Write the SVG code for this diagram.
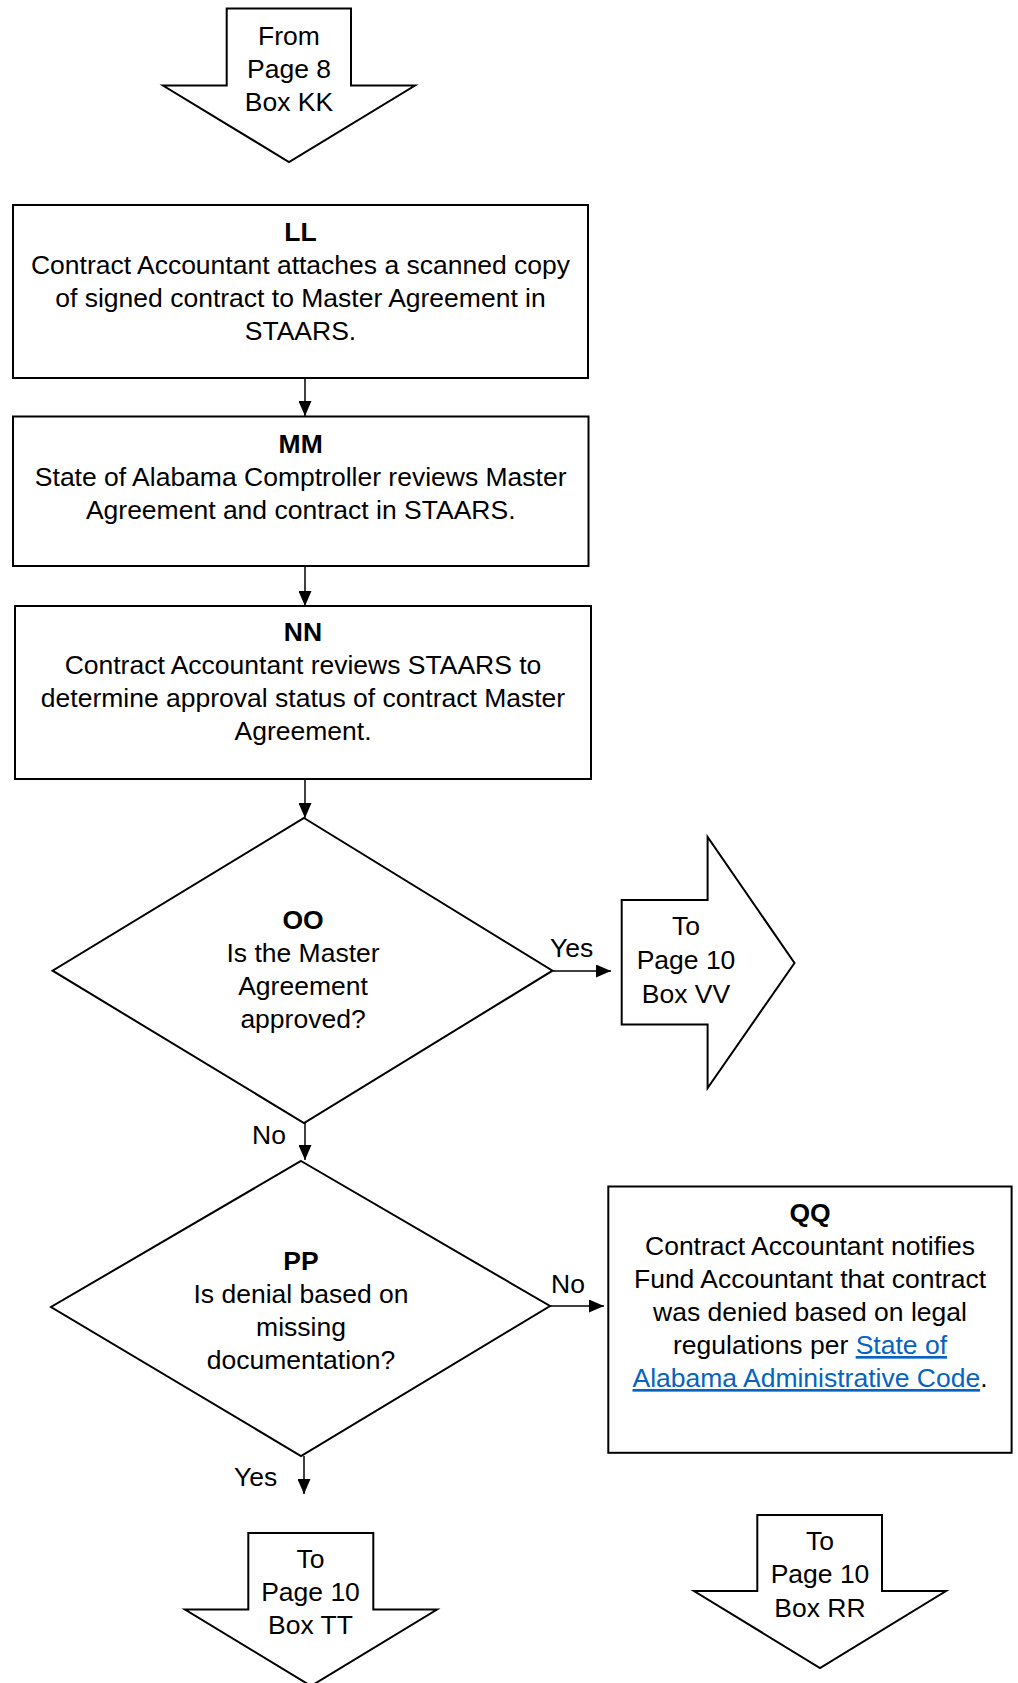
<svg xmlns="http://www.w3.org/2000/svg" width="1018" height="1683" viewBox="0 0 1018 1683">
<style>
.shape{fill:#fff;stroke:#000;stroke-width:2;stroke-linejoin:miter}
.conn{stroke:#000;stroke-width:1.5;fill:none}
text{font-family:"Liberation Sans",Arial,sans-serif;font-size:26.5px;fill:#000;text-anchor:middle}
.b{font-weight:bold}
.lbl{text-anchor:start}
.link{fill:#0563C1;text-decoration:underline}
</style>
<defs>
<marker id="ah" viewBox="0 0 15 13" refX="15" refY="6.5" markerWidth="15" markerHeight="13" orient="auto" markerUnits="userSpaceOnUse">
<path d="M0,0 L15,6.5 L0,13 z" fill="#000"/>
</marker>
</defs>
<rect width="1018" height="1683" fill="#fff"/>

<g id="from-kk">
<polygon class="shape" points="226.7,8.5 351,8.5 351,85.5 415,85.5 289,162 163,85.5 226.7,85.5"/>
<text x="289" y="45">From</text>
<text x="289" y="78">Page 8</text>
<text x="289" y="111">Box KK</text>
</g>

<g id="LL">
<rect class="shape" x="13" y="205" width="575" height="173"/>
<text x="300.5" y="240.5" class="b">LL</text>
<text x="300.5" y="273.5">Contract Accountant attaches a scanned copy</text>
<text x="300.5" y="306.5">of signed contract to Master Agreement in</text>
<text x="300.5" y="339.5">STAARS.</text>
</g>

<g id="MM">
<rect class="shape" x="13" y="416.5" width="575.5" height="149.5"/>
<text x="300.7" y="453" class="b">MM</text>
<text x="300.7" y="486">State of Alabama Comptroller reviews Master</text>
<text x="300.7" y="519">Agreement and contract in STAARS.</text>
</g>

<g id="NN">
<rect class="shape" x="15" y="606" width="576" height="173"/>
<text x="303" y="641" class="b">NN</text>
<text x="303" y="674">Contract Accountant reviews STAARS to</text>
<text x="303" y="707">determine approval status of contract Master</text>
<text x="303" y="740">Agreement.</text>
</g>

<g id="OO">
<polygon class="shape" points="304,818 552.5,970.7 304,1123 52.6,970.7"/>
<text x="303" y="928.5" class="b">OO</text>
<text x="303" y="961.5">Is the Master</text>
<text x="303" y="994.5">Agreement</text>
<text x="303" y="1027.5">approved?</text>
</g>

<g id="to-vv">
<polygon class="shape" points="621.7,900 707.6,900 707.6,837 794.5,963 707.6,1088 707.6,1024.5 621.7,1024.5"/>
<text x="686" y="935">To</text>
<text x="686" y="968.5">Page 10</text>
<text x="686" y="1003">Box VV</text>
</g>

<g id="PP">
<polygon class="shape" points="301,1161 550,1306 301,1456 51,1307"/>
<text x="301" y="1269.5" class="b">PP</text>
<text x="301" y="1302.5">Is denial based on</text>
<text x="301" y="1335.5">missing</text>
<text x="301" y="1368.5">documentation?</text>
</g>

<g id="QQ">
<rect class="shape" x="608.3" y="1186.5" width="403.3" height="266.3"/>
<text x="810" y="1222" class="b">QQ</text>
<text x="810" y="1255">Contract Accountant notifies</text>
<text x="810" y="1288">Fund Accountant that contract</text>
<text x="810" y="1321">was denied based on legal</text>
<text x="810" y="1354">regulations per <tspan class="link">State of</tspan></text>
<text x="810" y="1387"><tspan class="link">Alabama Administrative Code</tspan>.</text>
</g>

<g id="to-tt">
<polygon class="shape" points="248.3,1533 373.3,1533 373.3,1609.5 437,1609.5 311,1686 185,1609.5 248.3,1609.5"/>
<text x="310.5" y="1568">To</text>
<text x="310.5" y="1601">Page 10</text>
<text x="310.5" y="1634">Box TT</text>
</g>

<g id="to-rr">
<polygon class="shape" points="757.3,1515 882,1515 882,1591 946,1591 820,1668 694,1591 757.3,1591"/>
<text x="820" y="1550">To</text>
<text x="820" y="1583">Page 10</text>
<text x="820" y="1616.5">Box RR</text>
</g>

<g id="connectors">
<line class="conn" x1="305" y1="378" x2="305" y2="416" marker-end="url(#ah)"/>
<line class="conn" x1="305" y1="566" x2="305" y2="606" marker-end="url(#ah)"/>
<line class="conn" x1="305" y1="779" x2="305" y2="818" marker-end="url(#ah)"/>
<line class="conn" x1="552.5" y1="971" x2="611" y2="971" marker-end="url(#ah)"/>
<text x="550" y="957" class="lbl">Yes</text>
<line class="conn" x1="305" y1="1123" x2="305" y2="1160" marker-end="url(#ah)"/>
<text x="252" y="1144" class="lbl">No</text>
<line class="conn" x1="550" y1="1306" x2="604" y2="1306" marker-end="url(#ah)"/>
<text x="551" y="1293" class="lbl">No</text>
<line class="conn" x1="304" y1="1456" x2="304" y2="1494" marker-end="url(#ah)"/>
<text x="234" y="1486" class="lbl">Yes</text>
</g>
</svg>
